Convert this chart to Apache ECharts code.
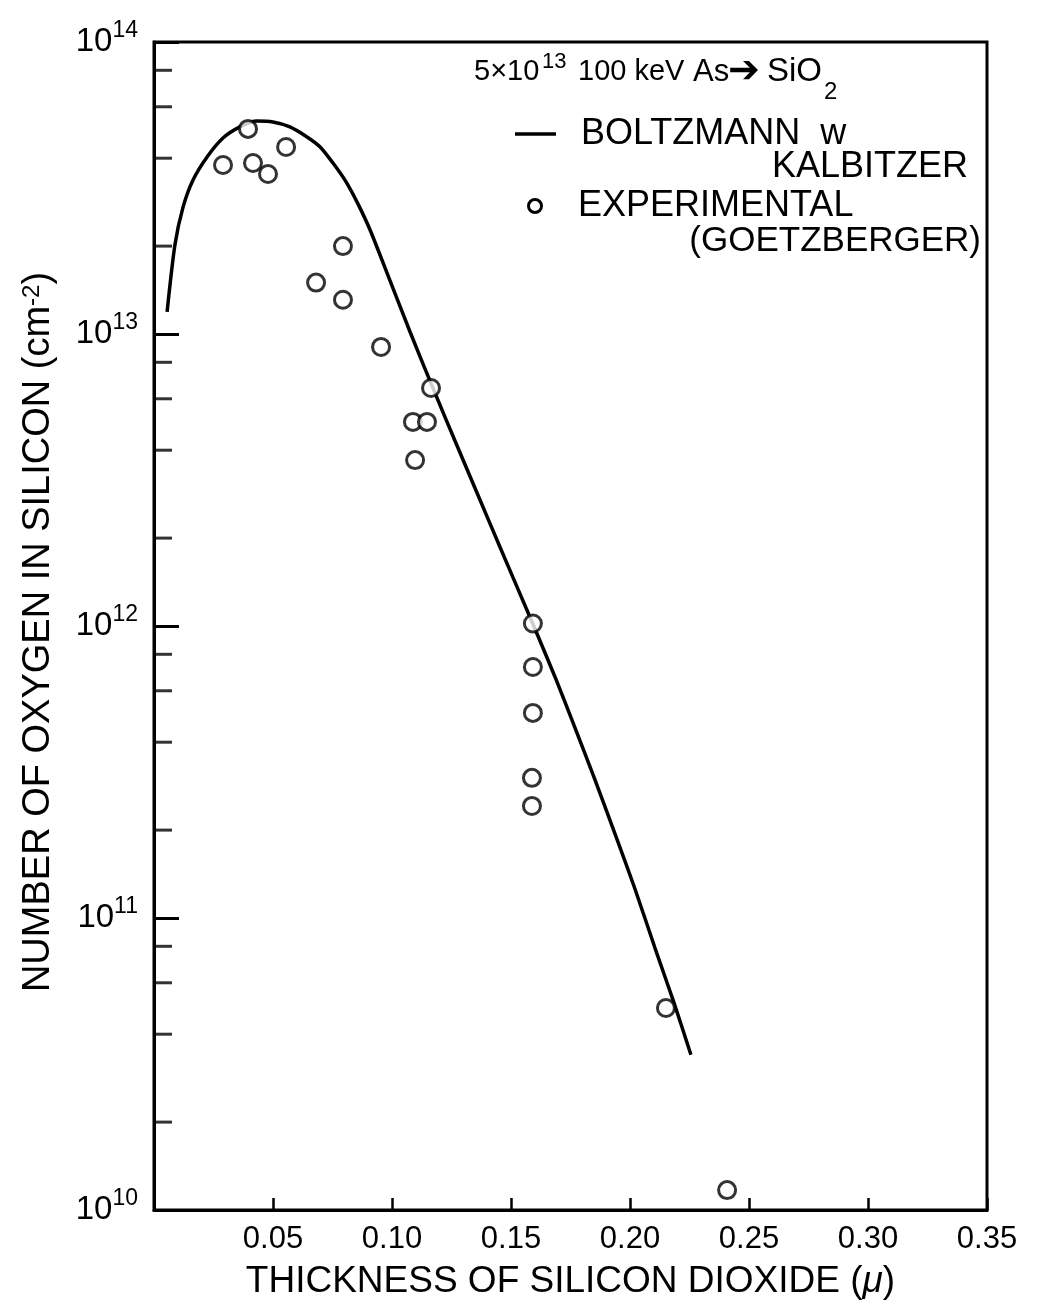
<!DOCTYPE html>
<html><head><meta charset="utf-8">
<script src="https://cdn.jsdelivr.net/npm/echarts@6/dist/echarts.min.js"></script>
<style>html,body{margin:0;padding:0;background:#fff}#c{width:1041px;height:1306px}</style>
</head><body><div id="c"></div>
<script>
// ---- data ----
const curveX = [0.0055, 0.0088, 0.0122, 0.0164, 0.0223, 0.0290, 0.0361, 0.0433, 0.0500, 0.0571, 0.0643, 0.0698, 0.0752, 0.0807, 0.0857, 0.0908, 0.0992, 0.1076, 0.1172, 0.1265, 0.1361, 0.1454, 0.1592, 0.1685, 0.1769, 0.1853, 0.1937, 0.2021, 0.2105, 0.2185, 0.2256];
const curveY = [1.19e13, 2.02e13, 2.72e13, 3.37e13, 4.04e13, 4.69e13, 5.12e13, 5.36e13, 5.32e13, 5.12e13, 4.73e13, 4.37e13, 3.85e13, 3.32e13, 2.79e13, 2.27e13, 1.52e13, 1.016e13, 6.53e12, 4.30e12, 2.81e12, 1.86e12, 1.016e12, 6.69e11, 4.48e11, 2.97e11, 1.94e11, 1.257e11, 7.89e10, 5.12e10, 3.40e10];
const expX = [0.0290, 0.0395, 0.0416, 0.0479, 0.0555, 0.0681, 0.0794, 0.0794, 0.0954, 0.1164, 0.1088, 0.1147, 0.1097, 0.1592, 0.1592, 0.1592, 0.1588, 0.1588, 0.2151, 0.2408];
const expY = [3.79e13, 5.04e13, 3.85e13, 3.53e13, 4.37e13, 1.50e13, 2.00e13, 1.31e13, 9.03e12, 6.53e12, 5.0e12, 5.0e12, 3.70e12, 1.02e12, 7.24e11, 5.04e11, 3.02e11, 2.42e11, 4.92e10, 1.17e10];
const xMin = 0, xMax = 0.35, xStep = 0.05;
const yMin = 1e10, yMax = 1e14;
const yMinorTicks = [2e10, 4e10, 6e10, 8e10, 2e11, 4e11, 6e11, 8e11, 2e12, 4e12, 6e12, 8e12, 2e13, 4e13, 6e13, 8e13];
const seriesNames = ['BOLTZMANN w KALBITZER', 'EXPERIMENTAL (GOETZBERGER)'];

const FONT = '"Liberation Sans", Arial, sans-serif';
const chart = echarts.init(document.getElementById('c'), null, {renderer: 'canvas'});

function txt(x, y, text, size, align, extra) {
  return {
    type: 'text', x: x, y: y, silent: true,
    style: Object.assign({
      text: text, fill: '#000', fontSize: size, fontFamily: FONT,
      align: align || 'left', verticalAlign: 'middle',
      textAlign: align || 'left', textVerticalAlign: 'middle'
    }, extra || {})
  };
}

const option = {
  animation: false,
  backgroundColor: '#fff',
  textStyle: {fontFamily: FONT, color: '#000'},
  grid: {left: 154, right: 54, top: 42, bottom: 96, show: true, borderColor: '#000', borderWidth: 3, backgroundColor: 'transparent'},
  xAxis: {
    type: 'value', min: xMin, max: xMax, interval: xStep,
    axisLine: {lineStyle: {color: '#000', width: 3}},
    axisTick: {inside: true, length: 12, lineStyle: {color: '#000', width: 2.5}},
    splitLine: {show: false},
    axisLabel: {color: '#000', fontSize: 31, fontFamily: FONT, margin: 14,
      formatter: v => (v === 0 ? '' : v.toFixed(2))},
    name: 'THICKNESS OF SILICON DIOXIDE ({i|μ})', nameLocation: 'middle', nameGap: 53,
    nameTextStyle: {color: '#000', fontSize: 37, fontFamily: FONT,
      rich: {i: {fontSize: 37, fontStyle: 'italic', fontFamily: FONT}}}
  },
  yAxis: {
    type: 'log', logBase: 10, min: yMin, max: yMax, splitNumber: 4,
    axisLine: {lineStyle: {color: '#000', width: 3}},
    axisTick: {inside: true, length: 25, lineStyle: {color: '#000', width: 3}},
    splitLine: {show: false},
    axisLabel: {color: '#000', margin: 16,
      formatter: v => '{b|10}{s|' + Math.round(Math.log10(v)) + '}',
      rich: {
        b: {fontSize: 33, fontFamily: FONT, lineHeight: 46},
        s: {fontSize: 23, fontFamily: FONT, verticalAlign: 'top', lineHeight: 22}
      }},
    name: 'NUMBER OF OXYGEN IN SILICON (cm{s|-2})', nameLocation: 'middle', nameGap: 96, nameRotate: 90,
    nameTextStyle: {color: '#000', fontSize: 38, fontFamily: FONT, padding: [0, 12, 0, 0],
      rich: {s: {fontSize: 24, fontFamily: FONT, verticalAlign: 'top', lineHeight: 24}}}
  },
  series: [
    {
      name: seriesNames[0], type: 'line', smooth: 0.25, symbol: 'none', z: 2,
      lineStyle: {color: '#000', width: 3.5},
      data: curveX.map((x, i) => [x, curveY[i]])
    },
    {
      name: seriesNames[1], type: 'scatter', symbol: 'circle', symbolSize: 17, z: 3,
      itemStyle: {color: '#fff', borderColor: '#000', borderWidth: 3},
      data: expX.map((x, i) => [x, expY[i]])
    },
    {
      name: 'minor ticks', type: 'scatter', symbol: 'rect', symbolSize: [18, 3], symbolOffset: [9, 0],
      clip: false, silent: true, z: 4, itemStyle: {color: '#000'},
      data: yMinorTicks.map(v => [xMin, v])
    }
  ],
  graphic: [
    txt(474, 72, '5×10', 29),
    txt(542, 62, '13', 22),
    txt(578, 72, '100 keV', 29),
    txt(693, 72, 'As', 31),
    txt(728, 72, '➔', 38, 'left', {fontFamily: '"DejaVu Sans", sans-serif'}),
    txt(767, 72, 'SiO', 33),
    txt(824, 92, '2', 24),
    {type: 'line', silent: true, shape: {x1: 515, y1: 134, x2: 556, y2: 134}, style: {stroke: '#000', lineWidth: 3.5}},
    txt(581, 134, 'BOLTZMANN  w', 36),
    txt(968, 167, 'KALBITZER', 36, 'right'),
    {type: 'circle', silent: true, shape: {cx: 535, cy: 206, r: 6.5}, style: {fill: '#fff', stroke: '#000', lineWidth: 3}},
    txt(578, 206, 'EXPERIMENTAL', 36),
    txt(981, 241, '(GOETZBERGER)', 35, 'right')
  ]
};
chart.setOption(option);
</script>
</body></html>
